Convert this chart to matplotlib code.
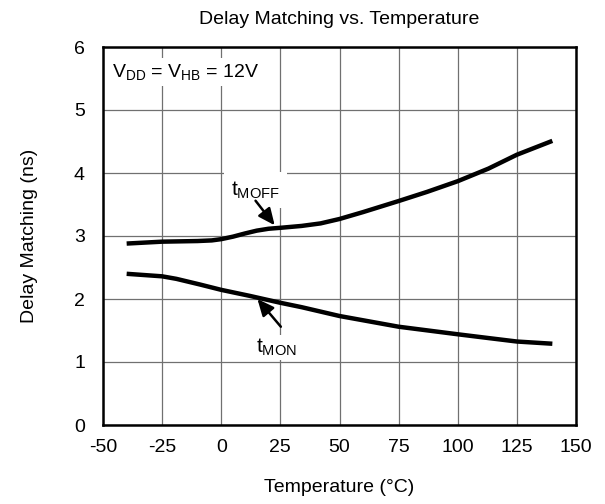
import matplotlib
matplotlib.use("Agg")
import matplotlib.pyplot as plt

plt.rcParams['font.family'] = ['Liberation Sans', 'DejaVu Sans']
plt.rcParams['mathtext.fontset'] = 'custom'
plt.rcParams['mathtext.rm'] = 'Liberation Sans'
plt.rcParams['mathtext.it'] = 'Liberation Sans'

temp_moff = [-40, -25, -10, -4, 0, 5, 10, 15, 20, 25, 34, 42, 50, 60, 75, 87, 100, 113, 125, 140]
t_moff = [2.88, 2.91, 2.92, 2.93, 2.95, 2.99, 3.04, 3.085, 3.115, 3.13, 3.16, 3.20, 3.27, 3.38,
          3.555, 3.70, 3.87, 4.07, 4.29, 4.51]
temp_mon = [-40, -25, -19, -9, 0, 12, 25, 34, 50, 75, 100, 113, 125, 140]
t_mon = [2.40, 2.36, 2.32, 2.23, 2.145, 2.05, 1.94, 1.87, 1.73, 1.56, 1.44, 1.38, 1.325, 1.29]
x_ticks = [-50, -25, 0, 25, 50, 75, 100, 125, 150]
y_ticks = [0, 1, 2, 3, 4, 5, 6]

fig = plt.figure(figsize=(6.05, 5.04), dpi=100)
L, R, T, B = 103, 576, 47, 425
ax = fig.add_axes([L/605, 1 - B/504, (R-L)/605, (B-T)/504])

ax.plot(temp_moff, t_moff, color='black', lw=3.2, solid_capstyle='butt',
        solid_joinstyle='round', zorder=3)
ax.plot(temp_mon, t_mon, color='black', lw=3.2, solid_capstyle='butt',
        solid_joinstyle='round', zorder=3)

ax.set_xlim(-50, 150)
ax.set_ylim(0, 6)
ax.set_xticks(x_ticks)
ax.set_yticks(y_ticks)
ax.set_xticklabels([str(v) for v in x_ticks])
ax.grid(True, color='#707070', lw=0.9, zorder=1)
ax.tick_params(length=0, labelsize=14)
ax.tick_params(axis='x', pad=10)
ax.tick_params(axis='y', pad=13)
for s in ax.spines.values():
    s.set_linewidth(1.8)
    s.set_color('black')
    s.set_zorder(5)

ax.set_title('Delay Matching vs. Temperature', fontsize=14, y=1.074, va='center', pad=0)
ax.set_xlabel('Temperature (°C)', fontsize=14)
ax.set_ylabel('Delay Matching (ns)', fontsize=14)
ax.xaxis.set_label_coords(0.5, -(488 - B) / (B - T))
ax.yaxis.set_label_coords(-(L - 30) / (R - L), 0.5)
ax.xaxis.label.set_va('center')
ax.yaxis.label.set_va('center')

ax.text(0.018, 0.934, r'$\mathregular{V_{DD}}$ = $\mathregular{V_{HB}}$ = 12V',
        transform=ax.transAxes, fontsize=14, va='center', ha='left',
        bbox=dict(facecolor='white', edgecolor='none', pad=3), zorder=4)

arrow = dict(arrowstyle='-|>,head_length=1.0,head_width=0.45',
             color='black', lw=1.8, shrinkA=0, shrinkB=0)

ax.text(14.5, 3.73, r'$\mathregular{t_{MOFF}}$', fontsize=15, ha='center', va='center',
        bbox=dict(facecolor='white', edgecolor='none', pad=5), zorder=4)
ax.annotate('', xy=(22.6, 3.17), xytext=(14.5, 3.56), arrowprops=arrow, zorder=4)

ax.text(23.5, 1.23, r'$\mathregular{t_{MON}}$', fontsize=15, ha='center', va='center',
        bbox=dict(facecolor='white', edgecolor='none', pad=1), zorder=4)
ax.annotate('', xy=(15.3, 2.0), xytext=(25.2, 1.56), arrowprops=arrow, zorder=4)

fig.savefig('out.png', dpi=100)
